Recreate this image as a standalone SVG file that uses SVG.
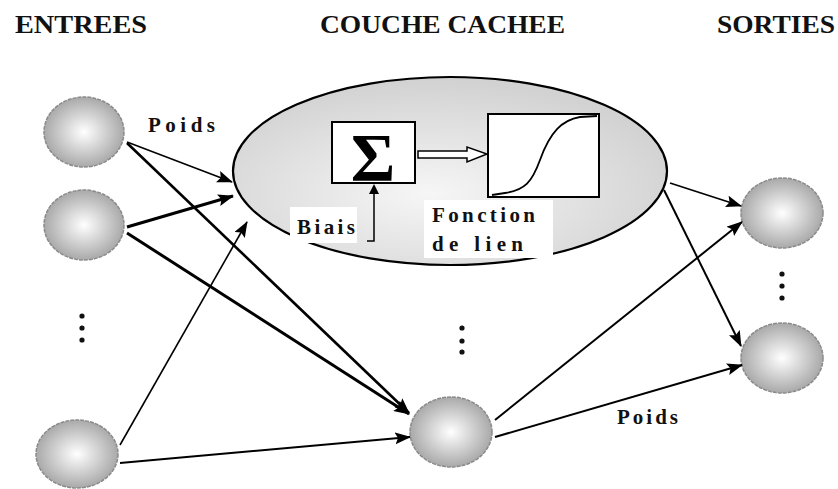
<svg xmlns="http://www.w3.org/2000/svg" width="838" height="489" viewBox="0 0 838 489">
<style>
.hdr{font-family:'Liberation Serif',serif;font-weight:700;font-size:26px;fill:#111}
.lbl{font-family:'Liberation Serif',serif;font-weight:700;font-size:21px;fill:#111}
.ball{fill:url(#gBall);stroke:#8a8a8a;stroke-width:1.5;stroke-dasharray:4 1}
.ln{stroke:#000;fill:none}
.dot{fill:#111}
</style>
<defs>
<radialGradient id="gBall" cx="0.5" cy="0.5" r="0.5">
<stop offset="0" stop-color="#ffffff"/>
<stop offset="1" stop-color="#a9a9a9"/>
</radialGradient>
<radialGradient id="gBig" cx="0.45" cy="0.62" r="0.6">
<stop offset="0" stop-color="#f6f6f6"/>
<stop offset="1" stop-color="#d2d2d2"/>
</radialGradient>
<marker id="ah" markerUnits="userSpaceOnUse" markerWidth="16" markerHeight="12" refX="15" refY="6" orient="auto">
<path d="M0,0 L16,6 L0,12 L3,6 Z" fill="#000"/>
</marker>
</defs>

<text class="hdr" x="15" y="33" textLength="132" lengthAdjust="spacingAndGlyphs">ENTREES</text>
<text class="hdr" x="320" y="33" textLength="245" lengthAdjust="spacingAndGlyphs">COUCHE CACHEE</text>
<text class="hdr" x="717" y="33" textLength="118" lengthAdjust="spacingAndGlyphs">SORTIES</text>

<g id="hidden-layer">
<ellipse cx="450" cy="171" rx="217" ry="94" fill="url(#gBig)" stroke="#000" stroke-width="2.2"/>
</g>

<g id="sum">
<rect x="332" y="122" width="83" height="61" fill="#fff" stroke="#000" stroke-width="2"/>
<text x="373" y="180" text-anchor="middle" font-family="Liberation Serif" font-size="68" font-weight="bold" fill="#000">Σ</text>
</g>

<g id="activation">
<rect x="488" y="114" width="111" height="83" fill="#fff" stroke="#000" stroke-width="2"/>
<path d="M492,195 L505,193 C525,190 532,182 540,160 C550,132 562,120 580,117 L597,116" class="ln" stroke-width="1.8"/>
</g>

<g id="biais">
<rect x="290" y="207" width="67" height="36" fill="#fff"/>
<text class="lbl" x="297" y="234" textLength="58" lengthAdjust="spacing">Biais</text>
<path d="M367,241 L374,241 L374,190" class="ln" stroke-width="1.5"/>
<path d="M374,184 L369,194 L379,194 Z" fill="#000"/>
</g>

<g id="fonction">
<rect x="424" y="200" width="129" height="58" fill="#fff"/>
<text class="lbl" x="432" y="222" textLength="103" lengthAdjust="spacing">Fonction</text>
<text class="lbl" x="432" y="251" textLength="91" lengthAdjust="spacing">de lien</text>
</g>

<g id="in1"><ellipse class="ball" cx="84" cy="132" rx="40" ry="35"/></g>
<g id="in2"><ellipse class="ball" cx="84" cy="225" rx="40" ry="35"/></g>
<g id="in3"><ellipse class="ball" cx="77" cy="454" rx="41" ry="34"/></g>
<g id="hid2"><ellipse class="ball" cx="451" cy="432" rx="41" ry="35"/></g>
<g id="out1"><ellipse class="ball" cx="782" cy="213" rx="41" ry="35"/></g>
<g id="out2"><ellipse class="ball" cx="782" cy="358" rx="41" ry="35"/></g>

<g id="dots">
<circle class="dot" cx="82" cy="316" r="2.6"/><circle class="dot" cx="82" cy="328" r="2.6"/><circle class="dot" cx="82" cy="340" r="2.6"/>
<circle class="dot" cx="462" cy="328" r="2.6"/><circle class="dot" cx="462" cy="341" r="2.6"/><circle class="dot" cx="462" cy="352" r="2.6"/>
<circle class="dot" cx="782" cy="274" r="2.6"/><circle class="dot" cx="782" cy="286" r="2.6"/><circle class="dot" cx="782" cy="298" r="2.6"/>
</g>

<g id="connectors">
<line class="ln" x1="127" y1="142" x2="232" y2="182" stroke-width="1.6" marker-end="url(#ah)"/>
<line class="ln" x1="127" y1="143" x2="409" y2="413" stroke-width="2.6" marker-end="url(#ah)"/>
<line class="ln" x1="127" y1="227" x2="233" y2="196" stroke-width="3" marker-end="url(#ah)"/>
<line class="ln" x1="127" y1="233" x2="409" y2="414" stroke-width="3" marker-end="url(#ah)"/>
<line class="ln" x1="120" y1="445" x2="247" y2="222" stroke-width="1.6" marker-end="url(#ah)"/>
<line class="ln" x1="120" y1="463" x2="410" y2="437" stroke-width="2" marker-end="url(#ah)"/>
<line class="ln" x1="495" y1="420" x2="742" y2="222" stroke-width="2" marker-end="url(#ah)"/>
<line class="ln" x1="495" y1="437" x2="742" y2="365" stroke-width="2" marker-end="url(#ah)"/>
<line class="ln" x1="670" y1="183" x2="741" y2="206" stroke-width="1.6" marker-end="url(#ah)"/>
<line class="ln" x1="664" y1="190" x2="741" y2="346" stroke-width="2" marker-end="url(#ah)"/>
<path d="M418,151 L467,151 L467,147 L487,154 L467,162 L467,158 L418,158 Z" fill="#fff" stroke="#000" stroke-width="1.5"/>
</g>

<text class="lbl" x="148" y="132" textLength="67" lengthAdjust="spacing">Poids</text>
<text class="lbl" x="617" y="424" textLength="61" lengthAdjust="spacing">Poids</text>
</svg>
